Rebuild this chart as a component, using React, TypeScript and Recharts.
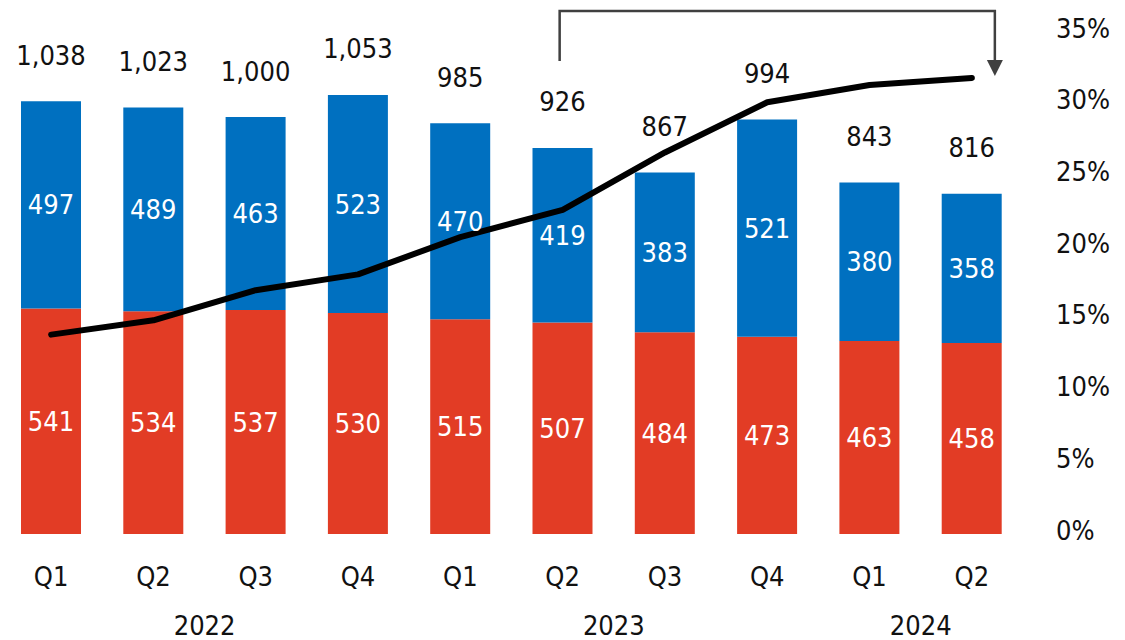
import React from 'react';
import { ComposedChart, Bar, Line, XAxis, YAxis, LabelList, Customized } from 'recharts';

const categoryKeys = ['2022Q1', '2022Q2', '2022Q3', '2022Q4', '2023Q1', '2023Q2', '2023Q3', '2023Q4', '2024Q1', '2024Q2'];
const quarterLabels = ['Q1', 'Q2', 'Q3', 'Q4', 'Q1', 'Q2', 'Q3', 'Q4', 'Q1', 'Q2'];
const redValues = [541, 534, 537, 530, 515, 507, 484, 473, 463, 458];
const blueValues = [497, 489, 463, 523, 470, 419, 383, 521, 380, 358];
const totalValues = [1038, 1023, 1000, 1053, 985, 926, 867, 994, 843, 816];
const ratioValues = [13.9, 14.9, 17.0, 18.1, 20.7, 22.6, 26.6, 30.1, 31.3, 31.8];
const yearLabels = ['2022', '2023', '2024'];
const yearSpan = [[0, 3], [4, 7], [8, 9]];
const rightTicks = [0, 5, 10, 15, 20, 25, 30, 35];

const data = categoryKeys.map((k, i) => ({
  key: k,
  q: quarterLabels[i],
  red: redValues[i],
  blue: blueValues[i],
  total: totalValues[i],
  ratio: ratioValues[i],
}));

const W = 1125;
const H = 640;
const M_TOP = 32;
const RIGHT_W = 102;
const X_H = 106;
const PLOT_LEFT = 0;
const PLOT_RIGHT = W - RIGHT_W;
const BAND = (PLOT_RIGHT - PLOT_LEFT) / data.length;
const FONT = '"DejaVu Sans Condensed", "DejaVu Sans", Verdana, sans-serif';
const FS = 27;
const TXT = '#111111';
const RED = '#E23C25';
const BLUE = '#0070C0';

const xCenter = (i: number) => PLOT_LEFT + (i + 0.5) * BAND;

const XTick = (props: any) => {
  const { x, y, index, payload } = props;
  const i = typeof index === 'number' ? index : categoryKeys.indexOf(payload.value);
  const yi = yearSpan.findIndex(([a]) => a === i);
  return (
    <g>
      <text x={x} y={y + 44} textAnchor="middle" fontSize={FS} fontFamily={FONT} fill={TXT}>
        {quarterLabels[i]}
      </text>
      {yi >= 0 && (
        <text
          x={(xCenter(yearSpan[yi][0]) + xCenter(yearSpan[yi][1])) / 2}
          y={y + 93}
          textAnchor="middle"
          fontSize={FS}
          fontFamily={FONT}
          fill={TXT}
        >
          {yearLabels[yi]}
        </text>
      )}
    </g>
  );
};

const RTick = (props: any) => {
  const { y, payload } = props;
  return (
    <text x={PLOT_RIGHT + 33} y={y - 4} dominantBaseline="central" textAnchor="start" fontSize={FS} fontFamily={FONT} fill={TXT}>
      {`${payload.value}%`}
    </text>
  );
};

const TotalLabel = (props: any) => {
  const { x, y, width, index } = props;
  return (
    <text x={x + width / 2} y={y - 46} dominantBaseline="central" textAnchor="middle" fontSize={FS} fontFamily={FONT} fill={TXT}>
      {totalValues[index].toLocaleString('en-US')}
    </text>
  );
};

const Bracket = () => {
  const left = xCenter(5) - 3;
  const right = xCenter(9) + 23;
  const top = 11;
  const leftBottom = 61;
  const tip = 76;
  const head = 16;
  const hw = 8;
  return (
    <g>
      <polyline
        points={`${left},${leftBottom} ${left},${top} ${right},${top} ${right},${tip - head}`}
        fill="none"
        stroke="#404040"
        strokeWidth={2.5}
      />
      <polygon points={`${right - hw},${tip - head} ${right + hw},${tip - head} ${right},${tip}`} fill="#404040" />
    </g>
  );
};

export default function App() {
  return (
    <div style={{ position: 'absolute', left: 0, top: 0, width: W, height: H, background: '#fff' }}>
      <ComposedChart
        width={W}
        height={H}
        data={data}
        margin={{ top: M_TOP, right: 0, bottom: 0, left: 0 }}
        barSize={60}
      >
        <XAxis
          dataKey="key"
          height={X_H}
          axisLine={false}
          tickLine={false}
          interval={0}
          tick={<XTick />}
        />
        <YAxis yAxisId="left" hide domain={[0, 1204]} />
        <YAxis
          yAxisId="right"
          orientation="right"
          width={RIGHT_W}
          domain={[0, 35]}
          ticks={rightTicks}
          axisLine={false}
          tickLine={false}
          tick={<RTick />}
        />
        <Bar yAxisId="left" dataKey="red" stackId="s" fill={RED} isAnimationActive={false}>
          <LabelList dataKey="red" position="center" fill="#ffffff" fontSize={FS} fontFamily={FONT} />
        </Bar>
        <Bar yAxisId="left" dataKey="blue" stackId="s" fill={BLUE} isAnimationActive={false}>
          <LabelList dataKey="blue" position="center" fill="#ffffff" fontSize={FS} fontFamily={FONT} />
          <LabelList dataKey="total" content={<TotalLabel />} />
        </Bar>
        <Line
          yAxisId="right"
          dataKey="ratio"
          type="linear"
          stroke="#000000"
          strokeWidth={6}
          strokeLinecap="round"
          strokeLinejoin="round"
          dot={false}
          activeDot={false}
          isAnimationActive={false}
        />
        <Customized component={<Bracket />} />
      </ComposedChart>
    </div>
  );
}
